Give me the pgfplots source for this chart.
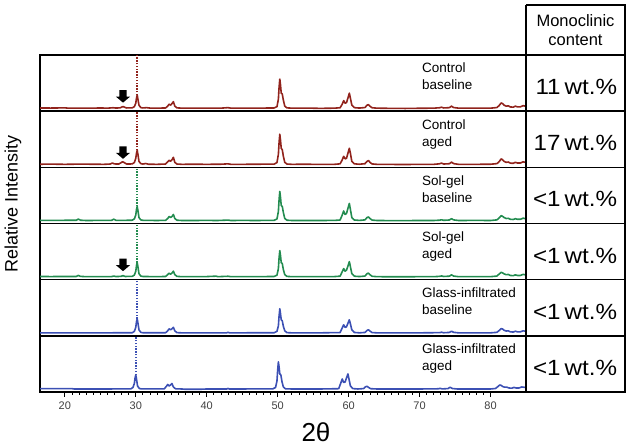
\documentclass[border=0pt]{standalone}
\usepackage{pgfplots}
\pgfplotsset{compat=1.18}
\usepackage{fontspec}
\setmainfont{Liberation Sans}
\definecolor{cred}{RGB}{145,35,28}
\definecolor{cgreen}{RGB}{35,140,80}
\definecolor{cblue}{RGB}{60,80,180}
\pgfplotsset{
  panel/.style={width=486pt,height=56.17pt,scale only axis,
    xmin=16.5,xmax=85,ymin=0,ymax=56,ytick=\empty,xtick=\empty,
    axis line style={line width=1.4pt},clip=true,anchor=south west},
  spec/.style={line width=1.6pt,line join=round},
  topdot/.style={line width=1.8pt,dash pattern=on 1.4pt off 1.4pt},
}
\newcommand{\arrowmark}{\fill[black] (axis cs:27.7,21) -- (axis cs:28.7,21) -- (axis cs:28.7,14.5) -- (axis cs:29.2,14.5) -- (axis cs:28.2,8.5) -- (axis cs:27.2,14.5) -- (axis cs:27.7,14.5) -- cycle;}
\begin{document}
\begin{tikzpicture}[x=1pt,y=1pt]
\useasboundingbox (0,0) rectangle (635,447);
% panel 1: control baseline
\begin{axis}[panel,at={(40pt,335.83pt)}]
\addplot[spec,cred] coordinates {(16.5,3.2)(18,3.1)(20,3.3)(20.5,3)(22,3.1)(24,3)(25,3.2)(26,3)(26.8,3.4)(27.2,3.1)(27.8,3.3)(28.0,4.0)(28.2,4.6)(28.4,4.0)(28.7,3.2)(29.5,3.3)(29.8,4.5)(30.0,8)(30.1,13)(30.2,16)(30.3,12)(30.45,6)(30.7,3.6)(31.0,3.2)(31.5,3.5)(32,3.1)(33,3)(34.2,3.2)(34.5,5)(34.7,7)(34.9,6)(35.1,7.5)(35.3,9.5)(35.5,5)(35.8,3.3)(36.5,3)(38,3.1)(40,3)(42,3)(43,3.5)(43.4,3)(45,3)(47,3)(49.5,3.2)(49.9,4.5)(50.1,12)(50.2,24)(50.3,32)(50.4,26)(50.5,18)(50.65,17)(50.8,11)(51,5)(51.3,3.3)(52,3)(54,3.1)(56,2.8)(58,3)(58.8,3.4)(59.1,7)(59.3,10.5)(59.5,8)(59.7,8.5)(59.9,13)(60.1,18)(60.25,13)(60.45,6)(60.8,3.5)(61.5,3.1)(62.3,3.6)(62.6,6)(62.8,6.5)(63.0,5)(63.3,3.4)(64,3)(66,2.8)(68,2.7)(70,2.9)(72,3)(72.8,3.4)(73.1,3.9)(73.4,3.2)(74.2,3.5)(74.5,5)(74.8,3.6)(75.5,3)(78,3)(80,3)(80.9,3.6)(81.2,5.5)(81.5,8.2)(81.7,7.5)(81.9,6)(82.2,5)(82.5,5.3)(82.8,4.2)(83.2,4)(83.5,5)(83.8,4.3)(84.2,4.3)(84.6,5.5)(85,4.8)};
\addplot[topdot,cred] coordinates {(30.2,16)(30.2,56)};
\arrowmark
\end{axis}
% panel 2: control aged
\begin{axis}[panel,at={(40pt,279.66pt)}]
\addplot[spec,cred] coordinates {(16.5,3.1)(18,3.2)(20,3)(22,3.2)(24,3.1)(25.5,3)(26.4,3.3)(26.7,4.3)(27.0,3.4)(27.6,3.3)(27.9,4.5)(28.15,5.6)(28.4,4.6)(28.7,3.3)(29.5,3.4)(29.8,4.8)(30.0,9)(30.1,14)(30.2,17)(30.3,13)(30.45,6)(30.7,3.7)(31.0,3.3)(31.4,3.8)(31.8,3.1)(33,3)(34.2,3.3)(34.5,5.5)(34.7,7)(34.9,6)(35.1,7.5)(35.3,10)(35.5,5)(35.8,3.3)(36.5,3)(38,3.1)(40,3)(42,3.1)(43,3.5)(43.4,3)(45,3)(47,3.1)(49.5,3.2)(49.9,4.8)(50.1,13)(50.2,25)(50.3,33)(50.4,27)(50.5,19)(50.65,17.5)(50.8,11)(51,5)(51.3,3.3)(52,3)(54,3.1)(56,2.9)(58,3)(58.8,3.5)(59.1,7.5)(59.3,11)(59.5,8.5)(59.7,9)(59.9,14)(60.1,19)(60.25,14)(60.45,6)(60.8,3.5)(61.5,3.1)(62.3,3.6)(62.6,6)(62.8,6.8)(63.0,5)(63.3,3.4)(64,3)(66,2.9)(68,2.8)(70,3)(72,3)(72.8,3.5)(73.1,4.2)(73.4,3.3)(74.2,3.6)(74.5,5.2)(74.8,3.7)(75.5,3)(78,3)(80,3.1)(80.9,3.7)(81.2,5.5)(81.5,8.4)(81.7,7.6)(81.9,6)(82.2,5)(82.5,5.3)(82.8,4.2)(83.2,4)(83.5,5)(83.8,4.3)(84.2,4.3)(84.6,5.5)(85,4.8)};
\addplot[topdot,cred] coordinates {(30.2,17)(30.2,56)};
\arrowmark
\end{axis}
% panel 3: sol-gel baseline
\begin{axis}[panel,at={(40pt,223.49pt)}]
\addplot[spec,cgreen] coordinates {(16.5,3.2)(18,3.1)(20,3.2)(21.6,3.2)(21.9,4.4)(22.2,3.3)(23,3)(25,3.1)(26.6,3.2)(26.9,4.3)(27.2,3.2)(28,3.1)(29.5,3.3)(29.8,4.6)(30.0,8.5)(30.1,14)(30.2,17)(30.3,13)(30.45,6)(30.7,3.6)(31.0,3.2)(32,3.1)(33,3)(34.2,3.2)(34.5,5)(34.7,7)(34.9,6)(35.1,7)(35.3,9)(35.5,5)(35.8,3.3)(36.5,3)(38,3)(40,3.1)(41.5,3)(43,3.4)(43.4,3)(45,3.1)(47,3)(49.5,3.2)(49.9,4.5)(50.1,12)(50.2,24)(50.3,32)(50.4,26)(50.5,18)(50.65,17)(50.8,11)(51,5)(51.3,3.3)(52,3)(54,3)(56,3)(58,3.1)(58.8,3.5)(59.1,8.5)(59.3,12.5)(59.5,9)(59.7,10)(59.9,15)(60.1,20)(60.25,14)(60.45,6)(60.8,3.5)(61.5,3.1)(62.3,3.6)(62.6,6)(62.8,6.5)(63.0,5)(63.3,3.4)(64,3)(66,2.9)(68,2.9)(70,3)(72,3)(72.8,3.3)(73.1,3.7)(73.4,3.2)(74.2,3.5)(74.5,4.8)(74.8,3.6)(75.5,3)(78,3.1)(80,3)(80.9,3.6)(81.2,5.5)(81.5,7.8)(81.7,7.2)(81.9,6)(82.2,5)(82.5,5.2)(82.8,4.2)(83.2,4)(83.5,4.8)(83.8,4.2)(84.2,4.2)(84.6,5.3)(85,4.7)};
\addplot[topdot,cgreen] coordinates {(30.2,17)(30.2,56)};
\end{axis}
% panel 4: sol-gel aged
\begin{axis}[panel,at={(40pt,167.32pt)}]
\addplot[spec,cgreen] coordinates {(16.5,3.2)(18,3.1)(20,3.2)(21.6,3.2)(21.9,4.2)(22.2,3.3)(23,3)(25,3.1)(26.6,3.1)(26.9,3.6)(27.2,3.1)(27.9,3.3)(28.2,4.0)(28.5,3.2)(29.5,3.3)(29.8,4.6)(30.0,8.5)(30.1,14)(30.2,17)(30.3,13)(30.45,6)(30.7,3.6)(31.0,3.2)(32,3.1)(33,3)(34.2,3.2)(34.5,5)(34.7,6.5)(34.9,5.5)(35.1,6.5)(35.3,8.5)(35.5,5)(35.8,3.3)(36.5,3)(38,3)(40,3.1)(41.3,3.5)(41.6,3)(43,3.4)(43.4,3)(45,3.1)(47,3)(49.5,3.2)(49.9,4.5)(50.1,11)(50.2,22)(50.3,29)(50.4,24)(50.5,17)(50.65,16)(50.8,10)(51,5)(51.3,3.3)(52,3)(54,3)(56,3)(58,3.1)(58.8,3.5)(59.1,8)(59.3,11)(59.5,8.5)(59.7,9.5)(59.9,13.5)(60.1,18)(60.25,13)(60.45,6)(60.8,3.5)(61.5,3.1)(62.3,3.6)(62.6,6)(62.8,6.5)(63.0,5)(63.3,3.4)(64,3)(66,2.9)(68,2.9)(70,3)(72,3)(72.8,3.3)(73.1,3.7)(73.4,3.2)(74.2,3.5)(74.5,4.8)(74.8,3.6)(75.5,3)(78,3.1)(80,3)(80.9,3.6)(81.2,5.5)(81.5,7.3)(81.7,6.8)(81.9,5.8)(82.2,5)(82.5,5.2)(82.8,4.2)(83.2,4)(83.5,4.8)(83.8,4.2)(84.2,4.2)(84.6,5.3)(85,4.7)};
\addplot[topdot,cgreen] coordinates {(30.2,17)(30.2,56)};
\arrowmark
\end{axis}
% panel 5: glass-infiltrated baseline
\begin{axis}[panel,at={(40pt,111.15pt)}]
\addplot[spec,cblue] coordinates {(16.5,3)(20,3)(25,3)(29.5,3.1)(29.8,4.5)(30.0,8.5)(30.1,14)(30.2,17)(30.3,13)(30.45,6)(30.7,3.5)(31.0,3.1)(34.2,3.1)(34.5,5)(34.7,7)(34.9,6)(35.1,7)(35.3,8.5)(35.5,5)(35.8,3.2)(36.5,3)(40,3)(42.8,3)(43,3.6)(43.2,3)(49.5,3.1)(49.9,4.5)(50.1,10)(50.2,20)(50.3,27)(50.4,22)(50.5,16)(50.65,15)(50.8,9.5)(51,5)(51.3,3.2)(52,3)(56,3)(58.8,3.3)(59.1,8)(59.3,11)(59.5,8.5)(59.7,9)(59.9,12.5)(60.1,16)(60.25,12)(60.45,6)(60.8,3.4)(61.5,3)(62.3,3.4)(62.6,5.5)(62.8,6)(63.0,4.8)(63.3,3.3)(64,3)(70,3)(72.8,3.2)(73.1,3.6)(73.4,3.1)(74.2,3.4)(74.5,4.6)(74.8,3.5)(75.5,3)(80,3)(80.9,3.5)(81.2,5.2)(81.5,7.2)(81.7,6.8)(81.9,5.6)(82.2,4.8)(82.5,5)(82.8,4)(83.2,3.8)(83.5,4.6)(83.8,4)(84.2,4)(84.6,5)(85,4.5)};
\addplot[topdot,cblue] coordinates {(30.2,17)(30.2,56)};
\end{axis}
% panel 6: glass-infiltrated aged
\begin{axis}[panel,at={(40pt,55pt)},
  xtick={20,30,40,50,60,70,80},minor x tick num=9,xtick pos=bottom,
  tick align=outside,major tick length=5pt,minor tick length=3pt,
  tick style={black,line width=0.9pt},
  every minor tick/.style={line width=0.8pt},
  ticklabel style={font=\fontsize{11}{11}\selectfont,text=black!75},
  /pgf/number format/assume math mode=true,
  xticklabel style={yshift=-1pt}]
\addplot[spec,cblue] coordinates {(16.5,3.4)(19,3.4)(21,3.4)(21.3,3)(25,3)(29.3,3.1)(29.6,4.5)(29.8,8.5)(29.9,14)(30.0,17)(30.1,13)(30.25,6)(30.5,3.5)(30.8,3.1)(34.0,3.1)(34.3,5.5)(34.5,7.5)(34.7,6)(34.9,7)(35.1,8.5)(35.3,5)(35.6,3.2)(36.5,3)(37,2.7)(39,2.7)(40,3)(42.8,3)(43,3.5)(43.2,3)(49.3,3.1)(49.7,4.5)(49.9,11)(50.0,22)(50.1,30)(50.2,25)(50.3,18)(50.45,17)(50.6,10.5)(50.8,5)(51.1,3.2)(52,3)(56,3)(58.6,3.3)(58.9,9)(59.1,13)(59.3,9.5)(59.5,10)(59.7,14)(59.9,18)(60.05,13)(60.25,6)(60.6,3.4)(61.3,3)(62.1,3.4)(62.4,5.3)(62.6,5.6)(62.8,4.6)(63.1,3.3)(64,3)(70,3)(72.6,3.2)(72.9,3.6)(73.2,3.1)(74.0,3.4)(74.3,4.8)(74.6,3.5)(75.3,3)(80,3)(80.7,3.5)(81.0,5.2)(81.3,7)(81.5,6.6)(81.7,5.5)(82.0,4.8)(82.3,4.8)(82.6,4)(83.0,3.8)(83.3,4.6)(83.6,4)(84.0,4)(84.4,5)(85,4.5)};
\addplot[topdot,cblue] coordinates {(30.0,17)(30.0,56)};
\end{axis}
% table
\begin{scope}[line width=1.4pt]
\draw (526,442) -- (625,442) -- (625,55) -- (526,55) -- (526,442);
\foreach \yy in {392,335.83,279.66,223.49,167.32,111.15} {\draw (526,\yy) -- (625,\yy);}
\end{scope}
\node[align=center,font=\fontsize{16.5}{19}\selectfont] at (575.5,417) {Monoclinic\\content};
\foreach \yy/\t in {363.9/11\,wt.\%,307.7/17\,wt.\%,251.6/<1\,wt.\%,195.4/<1\,wt.\%,139.2/<1\,wt.\%,83.1/<1\,wt.\%}{
  \node[anchor=east,font=\fontsize{22}{22}\selectfont,xscale=1.1] at (621,\yy-4) {\t};}
% sample labels
\foreach \yy/\a/\b in {392/Control/baseline,335.83/Control/aged,279.66/Sol-gel/baseline,223.49/Sol-gel/aged,167.32/Glass-infiltrated/baseline,111.15/Glass-infiltrated/aged}{
  \node[anchor=north west,align=left,inner sep=0pt,font=\fontsize{13.5}{17}\selectfont] at (422,\yy-8) {\a\\\b};}
% axis labels
\node[rotate=90,font=\fontsize{18}{18}\selectfont] at (13,243) {Relative Intensity};
\node[font=\fontsize{26}{26}\selectfont] at (316,15) {2θ};
\end{tikzpicture}
\end{document}
